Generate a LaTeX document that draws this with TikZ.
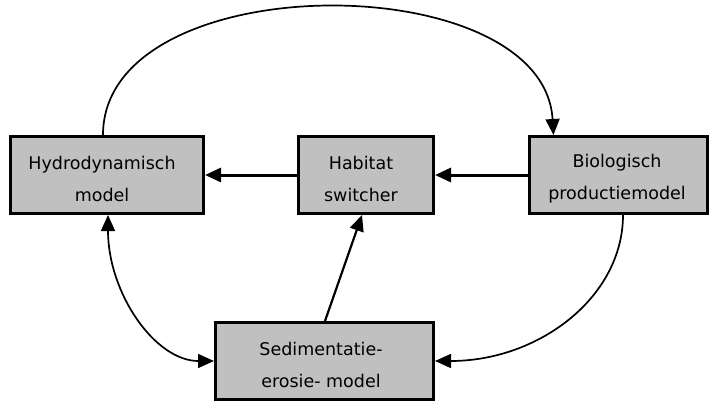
\documentclass[tikz,border=0pt]{standalone}
\usepackage{fontspec}
\setmainfont{DejaVu Sans}
\usetikzlibrary{arrows.meta}
\definecolor{boxgray}{RGB}{192,192,192}
\tikzset{
  modelbox/.style={draw=black, fill=boxgray, line width=3pt, rectangle,
    inner sep=0pt, minimum height=77pt},
  modeltext/.style={align=center, inner sep=0pt, yshift=-4pt,
    font=\fontsize{17.5}{32}\selectfont},
  tip/.style={-{Triangle[length=16pt,width=14pt]}},
  bitip/.style={{Triangle[length=16pt,width=14pt]}-{Triangle[length=16pt,width=14pt]}},
  thickline/.style={line width=3pt},
  thinline/.style={line width=1.7pt},
}
\begin{document}
\begin{tikzpicture}[x=1pt,y=1pt]
\useasboundingbox (0,0) rectangle (709,400);
\node[modelbox, minimum width=193pt,
  label={[modeltext, xshift=-5pt]center:{Hydrodynamisch\\model}}] (hyd) at (107,225) {};
\node[modelbox, minimum width=135pt,
  label={[modeltext, xshift=-5pt]center:{Habitat\\switcher}}] (hab) at (366,225) {};
\node[modelbox, minimum width=178pt,
  label={[modeltext, xshift=-1.5pt]center:{Biologisch\\productiemodel}}] (bio) at (618.5,225) {};
\node[modelbox, minimum width=218pt,
  label={[modeltext, xshift=-3.5pt]center:{Sedimentatie-\\erosie- model}}] (sed) at (324.5,39) {};

\draw[thickline, tip] (bio.west) -- (hab.east);
\draw[thickline, tip] (hab.west) -- (hyd.east);
\draw[thinline, tip] ([xshift=-4pt]hyd.north) .. controls +(0,170) and +(-10,170) .. ([xshift=-65pt]bio.north);
\draw[thinline, bitip] ([xshift=1pt]hyd.south) .. controls +(0,-78) and +(-59,0) .. (sed.west);
\draw[thinline, tip] ([xshift=4.5pt]bio.south) .. controls +(0,-82) and +(104,0) .. (sed.east);
\draw[line width=2.2pt, tip] ([xshift=0.5pt]sed.north) -- ([xshift=-4pt]hab.south);
\end{tikzpicture}
\end{document}
